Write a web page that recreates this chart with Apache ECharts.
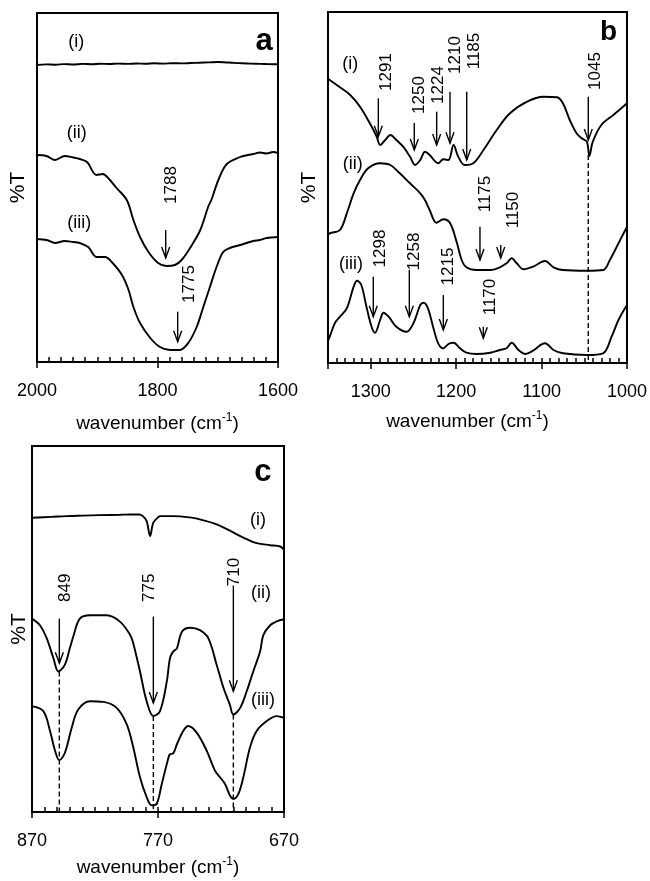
<!DOCTYPE html>
<html><head><meta charset="utf-8">
<script src="https://cdn.jsdelivr.net/npm/echarts@6/dist/echarts.min.js"></script>
<style>html,body{margin:0;padding:0;background:#fff}#c{width:650px;height:881px}</style>
</head><body><div id="c"></div>
<script>
const FONT = "'Liberation Sans', Arial, Helvetica, sans-serif";

// ---------- tick labels ----------
const aTickLabels = [2000, 1800, 1600];
const bTickLabels = [1300, 1200, 1100, 1000];
const cTickLabels = [870, 770, 670];
const seriesNames = ['(i)', '(ii)', '(iii)'];
const panelLetters = ['a', 'b', 'c'];

// ---------- panel a : 2000-1600 cm-1 (arbitrary %T units) ----------
const aI = [[2000,297],[1985,297.6],[1970,297.3],[1955,297.9],[1940,297.5],[1925,298.1],[1910,297.8],[1895,298.3],[1880,298],[1865,298.4],[1850,298.1],[1835,298.5],[1820,298.3],[1805,298.7],[1790,298.4],[1775,298.8],[1760,298.6],[1745,299],[1730,299.3],[1715,299.6],[1700,300],[1690,299.8],[1675,299.2],[1660,298.7],[1645,298.4],[1630,298.1],[1615,297.9],[1600,297.7]];
const aII = [[2000,207],[1984,206],[1970,202],[1954,206],[1940,204.5],[1929,203],[1917,200],[1901,187],[1891,188],[1882,184],[1868,174],[1851,162],[1840,142],[1829,125],[1815,110],[1799,99],[1785,96],[1771,97],[1760,102],[1746,114],[1729,132],[1716,155],[1710,163],[1699,182],[1685,198],[1663,205],[1650,207],[1641,208],[1630,209.5],[1619,208.5],[1608,210],[1600,209]];
const aIII = [[2000,123],[1984,122],[1970,119],[1954,121],[1940,120],[1929,119],[1915,115],[1901,105],[1887,105],[1876,100],[1859,87],[1848,72],[1840,55],[1829,39],[1812,24],[1796,15],[1779,12],[1763,12],[1749,19],[1735,35],[1724,55],[1713,75],[1702,95],[1691,110],[1680,114],[1663,117],[1641,121],[1630,122],[1619,124],[1600,125]];
// arrows: [wavenumber, top, tip, label wavenumber, label value]
const aArrows = [[1786.4,132,104,1777,177],[1766.5,50.3,20.3,1746.7,78]];
const aArrowLabels = ['1788','1775'];
const aDashed = [];
const aNamePos = [[1935,320],[1934,229],[1930,139]];
const aLetterPos = [1623,320.5];

// ---------- panel b : 1350-1000 cm-1 ----------
const bI = [[1350,284],[1348,283],[1336,275.7],[1324,268],[1312.5,256.3],[1301,239.7],[1293,226.3],[1289,218],[1283,223],[1277,228],[1270,223],[1262,216.3],[1254,206.3],[1248,198],[1242,203],[1236.5,211.3],[1231,208],[1221,199.7],[1215,203.7],[1209,203],[1203,218],[1197.5,206.3],[1190,198],[1180,199.7],[1168,213],[1152.5,233],[1137,249.7],[1117,261.3],[1098,266.3],[1082,265.7],[1075,259.7],[1067,243],[1059,229.7],[1053,224.7],[1047,221.3],[1044,207],[1040,221.3],[1030,238],[1016,248],[1000,259.7]];
const bII = [[1350,128],[1348,129.7],[1336,133],[1328,149.7],[1320,169.7],[1312.5,183],[1303,194.7],[1289,199.7],[1277,198],[1266,189.7],[1254,179.7],[1242,169.7],[1236.5,163],[1231,153],[1223,140.3],[1215,143.7],[1207,139.7],[1199,119.7],[1193.5,103],[1188,95.7],[1176,93],[1160,93],[1149,95.7],[1141,99.7],[1135,104.7],[1129,99.7],[1121,93.7],[1110,96.3],[1096,102],[1086,95.7],[1075,93],[1047,92.3],[1028,93],[1020,103],[1012,116.3],[1000,136.3]];
const bIII = [[1350,22],[1348,26.3],[1342,39.7],[1336,46.3],[1328,54.7],[1320,76.3],[1316,82.3],[1311,78],[1305,56.3],[1299,36.3],[1295,30.3],[1289,43],[1285,50.3],[1279,46.3],[1270,36.3],[1258,31.3],[1250,39.7],[1242,58],[1238,60.3],[1233,54.7],[1227,36.3],[1221,19.7],[1215,14.7],[1209,19],[1203,20.3],[1195.5,14.7],[1188,10.3],[1176,9],[1160,10.3],[1149,13],[1141,14.7],[1135,20.3],[1127,13],[1119,9],[1110,12.3],[1096,19.7],[1086,13],[1075,9.7],[1047,8],[1028,9.7],[1018,26.3],[1010,43],[1000,58]];
const bArrows = [[1291.1,264.7,226.3,1282.1,291],[1249,240,213,1243.5,268],[1222.8,251.3,218,1220.6,278],[1207.2,271.3,219.7,1200.7,308],[1187.6,271.3,203,1178.5,312],[1045.3,266.3,223,1037.4,292],[1172.1,136.3,103,1165.6,169],[1147.8,118,105,1133.4,153],[1297,86.3,46.3,1288.5,114.5],[1254.8,93,46.3,1249.3,111.5],[1215,68,33,1209,96.5],[1168.2,36.3,24.7,1160.4,66]];
const bArrowLabels = ['1291','1250','1224','1210','1185','1045','1175','1150','1298','1258','1215','1170'];
const bDashed = [[1045.3,208]];
const bNamePos = [[1324,299],[1321,199],[1323,99]];
const bLetterPos = [1021.7,331];

// ---------- panel c : 870-670 cm-1 ----------
const cI = [[870,296.7],[855,297.5],[842.5,298.3],[830,298.8],[816,299.3],[800,299.7],[792,300],[785,300],[782,298.3],[779,293.3],[776.3,278.3],[773.7,291.7],[770,297],[768.4,298.3],[758,298.3],[745,297],[736.7,295],[723.4,290],[710,281.7],[699.6,275],[691.7,271],[681,269],[673,267.7],[670,264.3]];
const cII = [[870,195],[863.7,188.3],[858.3,175],[853,155],[849,141.7],[844,148.3],[840,165],[837,178],[832,195],[824,198.3],[810.7,198.3],[800,191.7],[792,178.3],[789.6,170],[784.3,141.7],[779,111.7],[773.7,96.7],[768.4,101.7],[763,131.7],[760.5,155],[758,161.7],[755,165],[751,181.7],[744.6,185.7],[736.7,183.3],[730,175],[723.4,148.3],[718,125],[713,108.3],[710.2,98.3],[704.8,105],[699.6,121.7],[694.4,141.7],[689,161.7],[686.4,178.3],[681,188.3],[675.8,192.3],[670,194.3]];
const cIII = [[870,106.7],[861,101.7],[855.7,81.7],[851.7,61.7],[848.3,52.3],[843.8,60],[838.5,85],[833.3,103.3],[824,111.7],[813.4,111],[802.8,105],[794.8,88.3],[789.6,65],[784.3,35],[779,15],[775,6.7],[771,8.3],[767,28.3],[763,48.3],[760.5,58.3],[758,59],[755,68.3],[750,81.7],[746,86.7],[739.3,80],[731.3,61.7],[724.8,41.7],[720.8,35],[716.8,28.3],[712.9,16.7],[710.2,13.3],[706.2,18.3],[702.3,35],[697,65],[691.7,81.7],[683.7,91.7],[675.8,96.7],[670,95]];
const cArrows = [[848.3,195,150,843.8,226],[773.7,197,110,777.1,226],[710.2,228.3,121.7,709.3,242]];
const cArrowLabels = ['849','775','710'];
const cDashed = [[848.3,141.7],[773.7,96.7],[710.2,98.3]];
const cNamePos = [[690.6,294],[688.3,221],[686.7,113]];
const cLetterPos = [686.7,342];

// ---------- layout ----------
const panels = [
  {grid:{left:37, top:13, width:241, height:349}, min:1600, max:2000, major:200, minor:20, ymax:349, ticks:aTickLabels,
   spectra:[aI,aII,aIII], arrows:aArrows, arrowLabels:aArrowLabels, dashed:aDashed, namePos:aNamePos, letterPos:aLetterPos,
   nameGap:50, namePad:[0,0,0,0], yGap:8, letterSize:31},
  {grid:{left:328, top:12, width:299, height:351}, min:1000, max:1350, major:100, minor:10, ymax:351, ticks:bTickLabels,
   spectra:[bI,bII,bIII], arrows:bArrows, arrowLabels:bArrowLabels, dashed:bDashed, namePos:bNamePos, letterPos:bLetterPos,
   nameGap:47, namePad:[0,20,0,0], yGap:8, letterSize:28},
  {grid:{left:32, top:446, width:252, height:369}, min:670, max:870, major:100, minor:10, ymax:369, ticks:cTickLabels,
   spectra:[cI,cII,cIII], arrows:cArrows, arrowLabels:cArrowLabels, dashed:cDashed, namePos:cNamePos, letterPos:cLetterPos,
   nameGap:44, namePad:[0,0,0,0], yGap:2, letterSize:31}
];

const grids = [], xAxes = [], yAxes = [], series = [];
panels.forEach((p, i) => {
  grids.push(Object.assign({show:true, borderColor:'#000', borderWidth:2, backgroundColor:'transparent'}, p.grid));
  xAxes.push({
    gridIndex:i, type:'value', min:p.min, max:p.max, interval:p.major, inverse:true, position:'bottom',
    axisLine:{show:true, onZero:false, lineStyle:{color:'#000', width:2}},
    axisTick:{show:true, inside:false, length:6, lineStyle:{color:'#000', width:1.5}},
    axisLabel:{fontSize:18, color:'#000', fontFamily:FONT, margin:20,
      formatter:(v)=> p.ticks.indexOf(v) >= 0 ? String(v) : ''},
    splitLine:{show:false},
    name:'wavenumber (cm{sup|-1})', nameLocation:'middle', nameGap:p.nameGap,
    nameTextStyle:{fontSize:19, color:'#000', fontFamily:FONT, lineHeight:24, padding:p.namePad,
      rich:{sup:{fontSize:12, color:'#000', fontFamily:FONT, verticalAlign:'top', lineHeight:12}}}
  });
  xAxes.push({
    gridIndex:i, type:'value', min:p.min, max:p.max, interval:p.minor, inverse:true, position:'bottom',
    axisLine:{show:false}, axisLabel:{show:false}, splitLine:{show:false},
    axisTick:{show:true, inside:true, length:5, lineStyle:{color:'#000', width:1.5}}
  });
  yAxes.push({
    gridIndex:i, type:'value', min:0, max:p.ymax,
    axisLine:{show:false}, axisTick:{show:false}, axisLabel:{show:false}, splitLine:{show:false},
    name:'%T', nameLocation:'middle', nameRotate:90, nameGap:p.yGap,
    nameTextStyle:{fontSize:21, color:'#000', fontFamily:FONT}
  });
  const xi = i*2, yi = i;
  p.spectra.forEach((d, k) => {
    series.push({type:'line', name:panelLetters[i]+seriesNames[k], xAxisIndex:xi, yAxisIndex:yi, data:d,
      showSymbol:false, smooth:0.35, lineStyle:{color:'#000', width:1.9}, silent:true, z:3});
  });
  if (p.dashed.length) series.push({type:'custom', xAxisIndex:xi, yAxisIndex:yi, data:p.dashed, clip:false, silent:true, z:2,
    renderItem:(params, api) => {
      const a = api.coord([api.value(0), api.value(1)]), b = api.coord([api.value(0), 0]);
      return {type:'line', shape:{x1:a[0], y1:a[1], x2:b[0], y2:b[1]}, style:{stroke:'#000', lineWidth:1.4, lineDash:[5,3]}};
    }});
  series.push({type:'custom', xAxisIndex:xi, yAxisIndex:yi, data:p.arrows, clip:false, silent:true, z:4,
    renderItem:(params, api) => {
      const t = api.coord([api.value(0), api.value(1)]), b = api.coord([api.value(0), api.value(2)]);
      const l = api.coord([api.value(3), api.value(4)]);
      return {type:'group', children:[
        {type:'line', shape:{x1:t[0], y1:t[1], x2:b[0], y2:b[1]}, style:{stroke:'#000', lineWidth:1.4}},
        {type:'polyline', shape:{points:[[b[0]-4, b[1]-11],[b[0], b[1]],[b[0]+4, b[1]-11]]}, style:{stroke:'#000', fill:null, lineWidth:1.4}},
        {type:'text', x:l[0], y:l[1], rotation:Math.PI/2,
          style:{text:p.arrowLabels[params.dataIndex], fontSize:17, fontFamily:FONT, fill:'#000', align:'center', verticalAlign:'middle'}}
      ]};
    }});
  series.push({type:'custom', xAxisIndex:xi, yAxisIndex:yi, data:p.namePos, clip:false, silent:true, z:4,
    renderItem:(params, api) => {
      const c = api.coord([api.value(0), api.value(1)]);
      return {type:'text', x:c[0], y:c[1], style:{text:seriesNames[params.dataIndex], fontSize:18, fontFamily:FONT, fill:'#000', align:'center', verticalAlign:'middle'}};
    }});
  series.push({type:'custom', xAxisIndex:xi, yAxisIndex:yi, data:[p.letterPos], clip:false, silent:true, z:4,
    renderItem:(params, api) => {
      const c = api.coord([api.value(0), api.value(1)]);
      return {type:'text', x:c[0], y:c[1], style:{text:panelLetters[i], fontSize:p.letterSize, fontWeight:'bold', fontFamily:FONT, fill:'#000', align:'center', verticalAlign:'middle'}};
    }});
});

const chart = echarts.init(document.getElementById('c'), null, {renderer:'canvas'});
chart.setOption({animation:false, backgroundColor:'#fff', grid:grids, xAxis:xAxes, yAxis:yAxes, series:series});
</script></body></html>
